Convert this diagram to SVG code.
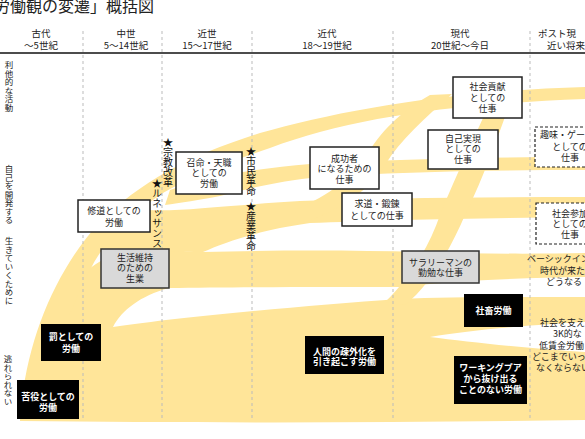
<svg xmlns="http://www.w3.org/2000/svg" width="585" height="439" viewBox="0 0 585 439">
<defs>
<style>
text{font-family:"Noto Sans CJK JP","Noto Sans",sans-serif;font-size:9px;fill:#222;}
.hd{font-size:9.5px;text-anchor:middle;}
.mid{text-anchor:middle;}
.w rect{fill:#fff;stroke:#222;stroke-width:1.5}
.g rect{fill:#d9d9d9;stroke:#333;stroke-width:1.5}
.k rect{fill:#000;}
.k text{fill:#fff;font-weight:bold}
.d rect{fill:#fff;stroke:#222;stroke-width:1.2;stroke-dasharray:3 2}
.vl{stroke:#bbb;stroke-width:1;stroke-dasharray:3 3;fill:none}
.vt{writing-mode:vertical-rl;font-size:8.5px}
.star{writing-mode:vertical-rl;font-size:10px;fill:#111}
.y{fill:#FFE599}
</style>
</defs>
<rect x="0" y="0" width="585" height="439" fill="#fff"/>
<text x="-6" y="12" style="font-size:16px">労働観の変遷」概括図</text>

<g id="bands">
<path class="y" d="M20,421 C21,395 28,365 42,335 L60,328 L113,327 C180,317 300,306 400,299 C450,297 520,297 585,297 L585,322 C530,325 470,330 430,337 C470,342 530,349 585,352 L585,420 C400,423 200,423 20,421 Z"/>
<path class="y" d="M38,345 C55,300 80,268 115,254 C150,246 180,252 203,252 C280,250 350,250 420,252 C480,254 540,254 585,253 L585,277 C520,278 460,280 400,287 C330,287 230,287 169,288 C140,296 122,310 113,327 L60,335 Z"/>
<path class="y" d="M22,400 C30,330 60,265 100,222 C140,182 190,155 260,133 C340,110 450,91 585,87 L585,99 C450,104 350,118 270,148 C220,165 185,180 160,195 C130,215 105,240 90,270 C75,300 62,330 55,360 Z"/>
<path class="y" d="M170,190 C210,176 260,168 310,164 C400,159 480,157 585,157 L585,170 C480,170 400,172 320,177 C280,181 250,188 220,196 C200,200 180,203 165,205 Z"/>
<path class="y" d="M148,210 C180,212 230,205 300,201 C380,198 480,197 585,197 L585,217 C480,218 380,220 310,223 C260,230 225,242 203,252 C180,252 150,250 100,250 L100,232 L148,232 Z"/>
<path class="y" d="M430,95 L452,94 C425,118 400,140 385,165 C370,190 340,210 300,224 L295,210 C330,195 355,175 365,158 C380,132 400,112 430,95 Z"/>
<path class="y" d="M492,98 L512,98 C500,130 485,175 465,215 C450,250 430,285 405,305 L385,302 C408,280 428,250 440,215 C458,170 478,130 492,98 Z"/>
</g>

<g id="grid">
<line class="vl" x1="83" y1="31" x2="83" y2="421"/>
<line class="vl" x1="162" y1="31" x2="162" y2="421"/>
<line class="vl" x1="252" y1="31" x2="252" y2="421"/>
<line class="vl" x1="393" y1="31" x2="393" y2="421"/>
<line class="vl" x1="530" y1="31" x2="530" y2="421"/>
<line x1="0" y1="53" x2="585" y2="53" stroke="#111" stroke-width="1.5"/>
</g>

<g id="headers">
<text class="hd" x="41" y="37">古代<tspan x="41" dy="12">～5世紀</tspan></text>
<text class="hd" x="126" y="37">中世<tspan x="126" dy="12">5～14世紀</tspan></text>
<text class="hd" x="207" y="37">近世<tspan x="207" dy="12">15～17世紀</tspan></text>
<text class="hd" x="327" y="37">近代<tspan x="327" dy="12">18～19世紀</tspan></text>
<text class="hd" x="460" y="37">現代<tspan x="460" dy="12">20世紀～今日</tspan></text>
<text x="538" y="37" style="font-size:9.5px">ポスト現<tspan x="547" dy="12">近い将来</tspan></text>
</g>

<g id="axis">
<text class="vt" x="9" y="61">利他的な活動</text>
<text class="vt" x="9" y="165">自己を開発する</text>
<text class="vt" x="9" y="237">生きていくために</text>
<text class="vt" x="8" y="355">逃れられない</text>
</g>

<g id="events">
<text class="star" x="168" y="137">★宗教改革</text>
<text class="star" x="157" y="178">★ルネッサンス</text>
<text class="star" x="251" y="146">★市民革命</text>
<text class="star" x="251" y="201">★産業革命</text>
</g>

<g id="n-shudo" class="w"><rect x="78" y="200" width="72" height="32"/><text class="mid" x="114" y="214">修道としての<tspan x="114" dy="12">労働</tspan></text></g>
<g id="n-seikatsu" class="g"><rect x="101" y="249" width="68" height="39"/><text class="mid" x="135" y="260.5">生活維持<tspan x="135" dy="10.7">のための</tspan><tspan x="135" dy="10.8">生業</tspan></text></g>
<g id="n-shomei" class="w"><rect x="176" y="152" width="66" height="42"/><text class="mid" x="209" y="165.5">召命・天職<tspan x="209" dy="10.7">としての</tspan><tspan x="209" dy="10.8">労働</tspan></text></g>
<g id="n-seikousha" class="w"><rect x="310" y="147" width="69" height="42"/><text class="mid" x="344.5" y="161.5">成功者<tspan x="344.5" dy="10.8">になるための</tspan><tspan x="344.5" dy="11">仕事</tspan></text></g>
<g id="n-kyudo" class="w"><rect x="342" y="193" width="70" height="33"/><text class="mid" x="377" y="206.5">求道・鍛錬<tspan x="377" dy="12">としての仕事</tspan></text></g>
<g id="n-jiko" class="w"><rect x="428" y="130" width="70" height="39"/><text class="mid" x="463" y="141.5">自己実現<tspan x="463" dy="10.8">としての</tspan><tspan x="463" dy="10.5">仕事</tspan></text></g>
<g id="n-koken" class="w"><rect x="453" y="77" width="69" height="41"/><text class="mid" x="487.5" y="89.5">社会貢献<tspan x="487.5" dy="11">としての</tspan><tspan x="487.5" dy="11">仕事</tspan></text></g>
<g id="n-shumi" class="d"><rect x="535" y="127" width="70" height="40"/><text x="540" y="137.5">趣味・ゲー<tspan class="mid" x="570" dy="12">としての</tspan><tspan class="mid" x="570" dy="11">仕事</tspan></text></g>
<g id="n-sanka" class="d"><rect x="536" y="203" width="70" height="41"/><text class="mid" x="570" y="216.5">社会参加<tspan x="570" dy="10.5">としての</tspan><tspan x="570" dy="10.5">仕事</tspan></text></g>
<g id="n-salary" class="g"><rect x="402" y="251" width="77" height="32"/><text class="mid" x="440.5" y="265.5">サラリーマンの<tspan x="440.5" dy="10.5">勤勉な仕事</tspan></text></g>
<g id="n-shachiku" class="k"><rect x="464" y="294" width="59" height="33"/><text class="mid" x="493.5" y="314">社畜労働</text></g>
<g id="n-wp" class="k"><rect x="454" y="356" width="73" height="48"/><text class="mid" x="490.5" y="370.5">ワーキングプア<tspan x="490.5" dy="11">から抜け出る</tspan><tspan x="490.5" dy="11">ことのない労働</tspan></text></g>
<g id="n-sogai" class="k"><rect x="305" y="336" width="79" height="38"/><text class="mid" x="344.5" y="354.5">人間の疎外化を<tspan x="344.5" dy="10.5">引き起こす労働</tspan></text></g>
<g id="n-batsu" class="k"><rect x="41" y="324" width="60" height="37"/><text class="mid" x="71" y="339.5">罰としての<tspan x="71" dy="12">労働</tspan></text></g>
<g id="n-kueki" class="k"><rect x="17" y="380" width="62" height="39"/><text class="mid" x="48" y="399.5">苦役としての<tspan x="48" dy="11.5">労働</tspan></text></g>

<g id="notes">
<text x="527" y="262">ベーシックイン<tspan x="540" dy="12">時代が来た</tspan><tspan x="546" dy="11">どうなる</tspan></text>
<text x="540" y="326">社会を支え<tspan x="553" dy="11">3K的な</tspan><tspan x="539" dy="12">低賃金労働</tspan><tspan x="532" dy="11">どこまでいっ</tspan><tspan x="536" dy="11">なくならない</tspan></text>
</g>
</svg>
